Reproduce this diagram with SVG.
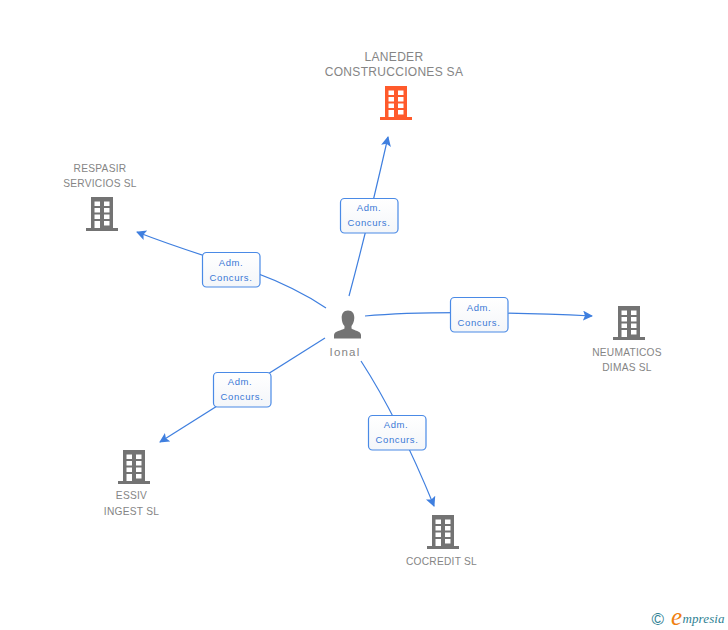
<svg xmlns="http://www.w3.org/2000/svg" width="728" height="630" viewBox="0 0 728 630">
<style>
.e{fill:none;stroke:#3f7fdf;stroke-width:1.2;marker-end:url(#a)}
.b{fill:url(#g);stroke:#4a8ae6;stroke-width:1.2}
.l{font:9.500px "Liberation Sans",Arial,sans-serif;fill:#3a78d6;text-anchor:middle;letter-spacing:.6px}
.n{font:10.200px "Liberation Sans",Arial,sans-serif;fill:#858585;text-anchor:middle;letter-spacing:.25px}
.big{font-size:12px;letter-spacing:.3px}
.gray{fill:#737373}.org{fill:#ff5a2b}
</style>
<defs>
<linearGradient id="g" x1="0" y1="0" x2="0" y2="1"><stop offset="0" stop-color="#fff"/><stop offset="1" stop-color="#f4f6f9"/></linearGradient>
<marker id="a" markerUnits="userSpaceOnUse" markerWidth="12" markerHeight="12" refX="9" refY="5" orient="auto"><path d="M0 0L10 5L0 10L2 5Z" fill="#3f7fdf"/></marker>
<symbol id="bld" width="32" height="34" viewBox="0 0 32 34"><path fill-rule="evenodd" d="M5 0H27V31H32V34H0V31H5ZM8.500 4.500V9H14V4.500ZM18 4.500V9H23.500V4.500ZM8.500 11V15.500H14V11ZM18 11V15.500H23.500V11ZM8.500 17.500V22H14V17.500ZM18 17.500V22H23.500V17.500ZM8.500 24V31H14V24ZM18 24V28.500H23.500V24Z"/></symbol>
</defs>
<g id="connectors">
<path class="e" d="M349 296Q368 225 388 137"/>
<path class="e" d="M326 308Q287 282 230 264T137 232"/>
<path class="e" d="M365 316C420 311 500 312 592 316"/>
<path class="e" d="M325 338Q245 388 160 442"/>
<path class="e" d="M361 361Q398 418 434 506"/>
</g>
<g id="edge-labels">
<g><rect class="b" x="340.500" y="198.500" width="57.500" height="34.500" rx="4"/><text class="l" x="369" y="211">Adm.</text><text class="l" x="369" y="226">Concurs.</text></g>
<g><rect class="b" x="202.500" y="252.500" width="57.500" height="34.500" rx="4"/><text class="l" x="231" y="266">Adm.</text><text class="l" x="231" y="281">Concurs.</text></g>
<g><rect class="b" x="450.500" y="297.500" width="57.500" height="34.500" rx="4"/><text class="l" x="479" y="311">Adm.</text><text class="l" x="479" y="326">Concurs.</text></g>
<g><rect class="b" x="213.500" y="372.500" width="57.500" height="34.500" rx="4"/><text class="l" x="240" y="385">Adm.</text><text class="l" x="242" y="400">Concurs.</text></g>
<g><rect class="b" x="368.500" y="415.500" width="57.500" height="34.500" rx="4"/><text class="l" x="396" y="428">Adm.</text><text class="l" x="397" y="443">Concurs.</text></g>
</g>
<g id="node-laneder"><text class="n big" x="394" y="61">LANEDER</text><text class="n big" x="394" y="76">CONSTRUCCIONES SA</text><use href="#bld" class="org" x="380" y="86"/></g>
<g id="node-respasir"><text class="n" x="100" y="172">RESPASIR</text><text class="n" x="100" y="187">SERVICIOS SL</text><use href="#bld" class="gray" x="86" y="197"/></g>
<g id="node-neumaticos"><use href="#bld" class="gray" x="613" y="306"/><text class="n" x="627" y="356">NEUMATICOS</text><text class="n" x="627" y="371">DIMAS SL</text></g>
<g id="node-essiv"><use href="#bld" class="gray" x="118" y="450"/><text class="n" x="131.500" y="499">ESSIV</text><text class="n" x="131.500" y="515">INGEST SL</text></g>
<g id="node-cocredit"><use href="#bld" class="gray" x="427" y="515"/><text class="n" x="441.500" y="565">COCREDIT SL</text></g>
<g id="node-ional"><path class="gray" d="M348 310.500C352.500 310.500 354.500 314 354.300 318C354.200 322 352.500 324.500 351.500 326V328.500C354 330.500 361 331 361 335V338.500H334V335C334 331 341.500 330.500 344.500 328.500V326C343 324.500 341.800 322 341.700 318C341.500 314 343.500 310.500 348 310.500Z"/><text class="n" x="345" y="356" style="font-size:11.500px;letter-spacing:1.200px">Ional</text></g>
<g id="logo"><text x="657.800" y="625" text-anchor="middle" style="font:17px 'Liberation Sans',Arial,sans-serif;fill:#2f7f93">©</text><text x="671" y="625" style="font:italic 25px 'Liberation Serif',serif;fill:#f08010">e</text><text x="682.500" y="623" style="font:italic 13px 'Liberation Serif',serif;fill:#2f7f93;letter-spacing:.1px">mpresia</text></g>
</svg>
